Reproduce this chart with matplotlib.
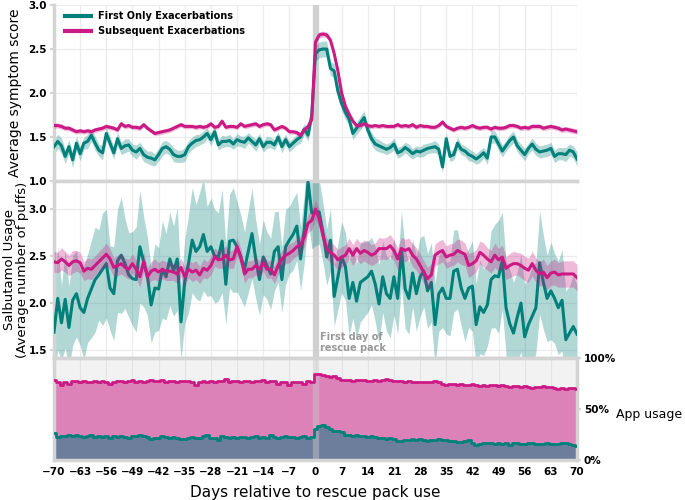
import numpy as np
import matplotlib
matplotlib.use('Agg')
import matplotlib.pyplot as plt

days = np.arange(-70, 71)

# Average symptom score
sym_first = [
    1.39,1.45,1.40,1.28,1.39,1.24,1.43,1.31,1.43,1.45,
    1.52,1.43,1.35,1.32,1.54,1.43,1.32,1.48,1.37,1.40,
    1.41,1.35,1.33,1.37,1.30,1.27,1.26,1.24,1.30,1.37,
    1.39,1.36,1.30,1.28,1.28,1.30,1.39,1.43,1.46,1.47,
    1.50,1.54,1.47,1.56,1.41,1.45,1.45,1.46,1.42,1.47,
    1.45,1.44,1.49,1.45,1.41,1.48,1.39,1.44,1.44,1.41,
    1.50,1.39,1.47,1.39,1.43,1.47,1.50,1.59,1.52,1.75,
    2.45,2.49,2.50,2.50,2.28,2.25,2.02,1.88,1.78,1.70,
    1.54,1.60,1.66,1.72,1.58,1.48,1.42,1.40,1.38,1.36,
    1.38,1.42,1.32,1.34,1.38,1.35,1.31,1.34,1.33,1.35,
    1.37,1.38,1.39,1.36,1.16,1.48,1.28,1.30,1.43,1.36,
    1.34,1.30,1.28,1.25,1.28,1.32,1.26,1.50,1.50,1.42,
    1.34,1.40,1.46,1.50,1.40,1.35,1.30,1.37,1.42,1.36,
    1.33,1.34,1.35,1.37,1.28,1.31,1.31,1.30,1.35,1.33,
    1.25]
sym_first_ci = [
    0.08,0.08,0.09,0.08,0.08,0.09,0.08,0.08,0.07,0.08,
    0.07,0.08,0.07,0.08,0.07,0.08,0.07,0.08,0.07,0.08,
    0.07,0.07,0.08,0.07,0.08,0.07,0.08,0.07,0.07,0.08,
    0.07,0.07,0.08,0.07,0.07,0.08,0.07,0.07,0.07,0.06,
    0.07,0.06,0.07,0.07,0.06,0.07,0.06,0.07,0.06,0.07,
    0.06,0.07,0.06,0.06,0.07,0.06,0.06,0.07,0.06,0.06,
    0.06,0.07,0.06,0.06,0.06,0.06,0.07,0.06,0.07,0.08,
    0.09,0.09,0.09,0.09,0.08,0.08,0.08,0.08,0.08,0.07,
    0.07,0.07,0.08,0.08,0.07,0.07,0.07,0.07,0.06,0.06,
    0.06,0.07,0.06,0.06,0.06,0.07,0.06,0.06,0.06,0.07,
    0.06,0.06,0.07,0.06,0.07,0.07,0.06,0.06,0.07,0.06,
    0.06,0.07,0.06,0.06,0.07,0.06,0.07,0.07,0.07,0.07,
    0.07,0.06,0.07,0.07,0.07,0.07,0.07,0.06,0.07,0.07,
    0.07,0.07,0.07,0.07,0.07,0.07,0.07,0.08,0.07,0.07,
    0.08]
sym_sub = [
    1.63,1.63,1.62,1.60,1.60,1.58,1.56,1.57,1.56,1.57,
    1.56,1.58,1.59,1.60,1.62,1.61,1.60,1.58,1.65,1.62,
    1.63,1.61,1.61,1.60,1.64,1.60,1.57,1.54,1.55,1.56,
    1.57,1.58,1.60,1.62,1.64,1.62,1.62,1.62,1.61,1.62,
    1.61,1.62,1.65,1.61,1.62,1.68,1.61,1.62,1.62,1.61,
    1.65,1.62,1.63,1.64,1.65,1.62,1.64,1.65,1.64,1.58,
    1.60,1.62,1.60,1.56,1.56,1.55,1.52,1.58,1.62,1.70,
    2.58,2.66,2.67,2.66,2.60,2.45,2.25,2.00,1.85,1.76,
    1.68,1.63,1.63,1.65,1.63,1.62,1.63,1.62,1.63,1.62,
    1.62,1.62,1.64,1.62,1.63,1.62,1.64,1.61,1.63,1.62,
    1.62,1.61,1.61,1.63,1.67,1.62,1.60,1.58,1.60,1.61,
    1.60,1.61,1.63,1.61,1.60,1.61,1.61,1.59,1.61,1.60,
    1.60,1.61,1.63,1.63,1.62,1.60,1.61,1.60,1.62,1.62,
    1.62,1.60,1.61,1.62,1.61,1.60,1.58,1.59,1.58,1.57,
    1.56]
sym_sub_ci = [
    0.030,0.029,0.030,0.028,0.029,0.030,0.028,0.029,0.028,0.029,
    0.028,0.029,0.028,0.028,0.029,0.028,0.027,0.028,0.029,0.028,
    0.028,0.027,0.028,0.028,0.027,0.028,0.027,0.028,0.027,0.027,
    0.027,0.028,0.027,0.027,0.028,0.027,0.027,0.026,0.027,0.027,
    0.026,0.027,0.027,0.026,0.027,0.026,0.027,0.026,0.026,0.027,
    0.026,0.026,0.027,0.026,0.026,0.026,0.027,0.026,0.026,0.026,
    0.026,0.026,0.026,0.027,0.026,0.027,0.027,0.027,0.028,0.030,
    0.035,0.035,0.034,0.034,0.033,0.032,0.032,0.030,0.030,0.029,
    0.028,0.027,0.027,0.027,0.026,0.026,0.027,0.026,0.026,0.026,
    0.026,0.026,0.027,0.026,0.026,0.026,0.027,0.026,0.026,0.027,
    0.026,0.026,0.027,0.027,0.028,0.027,0.027,0.027,0.027,0.027,
    0.027,0.027,0.028,0.027,0.027,0.028,0.027,0.028,0.028,0.027,
    0.028,0.028,0.028,0.029,0.028,0.028,0.029,0.028,0.029,0.029,
    0.029,0.029,0.030,0.029,0.029,0.030,0.030,0.030,0.030,0.031,
    0.031]

# Salbutamol usage
puff_first = [
    1.69,2.05,1.79,2.04,1.74,2.03,2.10,1.95,1.90,2.05,
    2.15,2.25,2.30,2.36,2.42,2.16,2.10,2.45,2.51,2.42,
    2.30,2.26,2.25,2.60,2.44,2.29,1.98,2.16,2.15,2.36,
    2.28,2.47,2.34,2.47,1.80,2.23,2.42,2.67,2.55,2.60,
    2.73,2.55,2.60,2.50,2.49,2.66,2.20,2.66,2.67,2.60,
    2.49,2.36,2.55,2.74,2.47,2.25,2.49,2.40,2.31,2.55,
    2.60,2.25,2.60,2.67,2.73,2.82,2.47,2.79,3.29,2.96,
    2.97,2.97,2.75,2.49,2.67,2.07,2.28,2.49,2.39,2.05,
    2.22,2.02,2.22,2.25,2.28,2.34,2.20,1.99,2.28,2.10,
    2.05,2.28,2.05,2.58,2.15,2.05,2.32,2.10,2.28,2.34,
    2.13,2.22,1.77,2.10,2.16,2.05,2.05,2.34,2.36,2.16,
    2.05,2.16,2.18,1.77,1.96,1.90,1.98,2.25,2.29,2.28,
    2.45,1.95,1.78,1.68,1.85,2.00,1.64,1.77,1.86,1.95,
    2.43,2.22,2.05,2.13,2.05,1.95,2.03,1.61,1.68,1.75,
    1.67]
puff_first_ci = [
    0.42,0.55,0.40,0.52,0.44,0.48,0.46,0.40,0.50,0.47,
    0.52,0.56,0.48,0.60,0.58,0.45,0.50,0.55,0.62,0.48,
    0.45,0.50,0.56,0.60,0.48,0.42,0.40,0.47,0.44,0.52,
    0.46,0.50,0.48,0.55,0.40,0.45,0.52,0.56,0.50,0.58,
    0.60,0.48,0.52,0.50,0.47,0.55,0.42,0.50,0.56,0.48,
    0.45,0.40,0.44,0.48,0.42,0.38,0.40,0.36,0.38,0.42,
    0.38,0.35,0.40,0.36,0.38,0.36,0.34,0.36,0.40,0.38,
    0.36,0.34,0.32,0.30,0.34,0.32,0.35,0.38,0.36,0.40,
    0.38,0.40,0.42,0.40,0.38,0.36,0.40,0.42,0.38,0.40,
    0.42,0.40,0.38,0.40,0.42,0.38,0.36,0.40,0.42,0.38,
    0.40,0.42,0.44,0.40,0.42,0.38,0.40,0.44,0.42,0.40,
    0.46,0.42,0.48,0.44,0.50,0.46,0.44,0.52,0.55,0.60,
    0.52,0.50,0.58,0.54,0.48,0.52,0.56,0.50,0.54,0.48,
    0.55,0.50,0.46,0.52,0.48,0.50,0.54,0.52,0.50,0.55,
    0.52]
puff_sub = [
    2.44,2.43,2.47,2.44,2.40,2.44,2.45,2.43,2.34,2.37,
    2.36,2.40,2.44,2.48,2.52,2.47,2.38,2.40,2.42,2.38,
    2.36,2.42,2.36,2.28,2.44,2.28,2.34,2.36,2.33,2.36,
    2.34,2.34,2.33,2.31,2.38,2.28,2.36,2.33,2.35,2.30,
    2.37,2.35,2.40,2.49,2.46,2.47,2.51,2.46,2.47,2.60,
    2.49,2.31,2.36,2.36,2.40,2.36,2.43,2.36,2.36,2.30,
    2.40,2.47,2.51,2.53,2.56,2.60,2.62,2.70,2.85,2.88,
    3.00,2.90,2.72,2.58,2.54,2.51,2.46,2.49,2.51,2.58,
    2.51,2.58,2.53,2.56,2.54,2.51,2.53,2.58,2.58,2.58,
    2.61,2.56,2.47,2.58,2.56,2.58,2.51,2.47,2.40,2.33,
    2.26,2.30,2.51,2.54,2.56,2.49,2.51,2.52,2.56,2.54,
    2.52,2.40,2.42,2.45,2.54,2.51,2.47,2.44,2.51,2.46,
    2.49,2.37,2.40,2.42,2.42,2.40,2.37,2.35,2.42,2.35,
    2.31,2.33,2.27,2.32,2.33,2.30,2.31,2.31,2.31,2.31,
    2.27]
puff_sub_ci = [
    0.11,0.11,0.12,0.11,0.11,0.12,0.11,0.11,0.10,0.11,
    0.11,0.10,0.11,0.11,0.12,0.11,0.10,0.11,0.11,0.10,
    0.11,0.10,0.10,0.11,0.10,0.10,0.10,0.11,0.10,0.10,
    0.10,0.10,0.09,0.10,0.10,0.10,0.09,0.10,0.10,0.09,
    0.10,0.09,0.10,0.10,0.09,0.10,0.10,0.09,0.10,0.10,
    0.09,0.10,0.09,0.09,0.10,0.09,0.09,0.10,0.09,0.09,
    0.10,0.09,0.09,0.10,0.09,0.09,0.10,0.10,0.10,0.10,
    0.10,0.10,0.10,0.11,0.11,0.11,0.11,0.11,0.11,0.11,
    0.11,0.11,0.11,0.11,0.12,0.11,0.11,0.12,0.11,0.12,
    0.12,0.11,0.12,0.12,0.12,0.11,0.12,0.12,0.12,0.12,
    0.12,0.12,0.12,0.12,0.12,0.12,0.12,0.12,0.12,0.13,
    0.12,0.13,0.12,0.12,0.12,0.13,0.12,0.12,0.13,0.12,
    0.13,0.12,0.13,0.13,0.12,0.13,0.13,0.13,0.13,0.13,
    0.13,0.14,0.13,0.13,0.14,0.13,0.14,0.14,0.14,0.14,
    0.14]

# App usage (%)
app_sub = [
    78,76,74,76,75,77,77,76,77,76,
    76,77,76,77,76,75,76,77,77,76,
    77,78,76,77,76,77,78,77,77,78,
    76,77,77,76,77,77,77,76,74,76,
    77,76,77,76,77,77,79,76,77,77,
    76,77,77,76,77,77,78,76,77,77,
    75,76,76,74,76,76,76,75,77,76,
    84,84,83,82,81,82,80,78,78,78,
    77,78,78,78,77,77,78,77,78,79,
    78,77,77,77,76,77,76,76,76,76,
    76,76,77,76,75,74,75,75,74,75,
    74,74,75,74,73,74,73,74,74,73,
    74,73,72,73,73,72,73,72,71,72,
    72,73,72,72,71,70,71,70,71,71,
    70]
app_first = [
    26,23,24,24,25,24,25,24,23,24,
    25,23,24,23,24,22,24,23,24,23,
    22,24,24,25,24,23,21,22,22,24,
    23,22,23,22,21,21,22,23,22,22,
    24,25,22,22,20,24,23,22,23,22,
    23,23,22,23,24,22,23,22,25,23,
    22,23,24,23,23,22,23,24,22,23,
    30,33,34,32,30,28,28,27,25,25,
    24,25,24,24,23,24,23,22,22,21,
    22,21,19,19,20,20,21,20,21,20,
    19,20,20,21,20,20,19,19,18,18,
    19,20,17,15,16,17,17,17,16,17,
    16,17,15,17,17,16,16,17,17,16,
    16,16,17,16,16,16,17,17,16,15,
    14]

for arr in (sym_first, sym_first_ci, sym_sub, sym_sub_ci, puff_first, puff_first_ci,
            puff_sub, puff_sub_ci, app_sub, app_first):
    assert len(arr) == len(days), len(arr)

x_ticks = list(range(-70, 71, 7))
sym_ticks = [1.0, 1.5, 2.0, 2.5, 3.0]
puff_ticks = [1.5, 2.0, 2.5, 3.0]

TEAL = '#00807a'
PINK = '#cc1a85'
SPINE = '#d4d4d4'
GRID = '#ececec'

sf, sfc = np.array(sym_first), np.array(sym_first_ci)
ss, ssc = np.array(sym_sub), np.array(sym_sub_ci)
pf, pfc = np.array(puff_first), np.array(puff_first_ci)
ps, psc = np.array(puff_sub), np.array(puff_sub_ci)

W, H = 685, 500
fig = plt.figure(figsize=(6.85, 5.0), dpi=100)
L, R = 54 / W, 577 / W
ax1 = fig.add_axes([L, 1 - 181 / H, R - L, 176 / H])
ax2 = fig.add_axes([L, 1 - 358 / H, R - L, 177 / H], sharex=ax1)
ax3 = fig.add_axes([L, 1 - 460 / H, R - L, 102 / H], sharex=ax1)

for ax in (ax1, ax2, ax3):
    ax.set_xlim(-70, 70)
    ax.set_xticks(x_ticks)
    ax.grid(True, color=GRID, lw=0.9, zorder=0)
    ax.set_axisbelow(True)
    for s in ax.spines.values():
        s.set_color(SPINE)
        s.set_linewidth(2.5)
    ax.tick_params(colors=SPINE, labelcolor='black', labelsize=7.5, length=3, width=1.5)
    ax.tick_params(axis='y', pad=2)

# --- top panel
ax1.axvline(0, color='#d0d0d0', lw=4.5, zorder=1)
ax1.fill_between(days, sf - sfc, sf + sfc, color=TEAL, alpha=0.3, lw=0, zorder=2)
l1, = ax1.plot(days, sf, color=TEAL, lw=2.2, zorder=3, label='First Only Exacerbations')
ax1.fill_between(days, ss - ssc, ss + ssc, color=PINK, alpha=0.3, lw=0, zorder=4)
l2, = ax1.plot(days, ss, color=PINK, lw=2.2, zorder=5, label='Subsequent Exacerbations')
ax1.set_ylim(1.0, 3.0)
ax1.set_yticks(sym_ticks)
ax1.set_ylabel('Average symptom score', fontsize=10)
ax1.yaxis.set_label_coords(-0.061, 0.5)
ax1.spines['top'].set_visible(False)
ax1.spines['right'].set_visible(False)
ax1.tick_params(axis='x', labelbottom=False, length=0)
leg = ax1.legend(handles=[l1, l2], loc='upper left', bbox_to_anchor=(0.005, 1.015),
                 frameon=False, prop={'weight': 'bold', 'size': 7},
                 handlelength=2.6, handletextpad=0.8, labelspacing=0.5)
for ln in leg.get_lines():
    ln.set_linewidth(3)

# --- middle panel
ax2.axvline(0, color='#d0d0d0', lw=4.5, zorder=1)
ax2.fill_between(days, pf - pfc, pf + pfc, color=TEAL, alpha=0.3, lw=0, zorder=2)
ax2.plot(days, pf, color=TEAL, lw=2.2, zorder=3)
ax2.fill_between(days, ps - psc, ps + psc, color=PINK, alpha=0.3, lw=0, zorder=4)
ax2.plot(days, ps, color=PINK, lw=2.2, zorder=5)
ax2.set_ylim(1.415, 3.30)
ax2.set_yticks(puff_ticks)
fig.text(16 / W, 1 - 270 / H, 'Salbutamol Usage\n(Average number of puffs)', fontsize=9.5,
         rotation=90, ha='center', va='center', linespacing=1.0, multialignment='center')
ax2.spines['right'].set_visible(False)
ax2.tick_params(axis='x', labelbottom=False, length=0)
ax2.text(1.3, 1.47, 'First day of\nrescue pack', color='#999999', fontsize=7,
         fontweight='bold', ha='left', va='bottom', zorder=6, linespacing=1.1)

# --- bottom panel
ax3.set_facecolor('white')
ax3.fill_between(days, 0, 1, color='#f2f2f2', step='mid', lw=0, zorder=0.5)
ax3.fill_between(days, 0, np.array(app_sub) / 100, step='mid', color='#dd82b9', lw=0, zorder=1)
ax3.fill_between(days, 0, np.array(app_first) / 100, step='mid', color='#6c7e9c', lw=0, zorder=1.2)
ax3.grid(True, axis='x', color='#e4e4e4', lw=0.9, zorder=1.5)
ax3.grid(False, axis='y')
ax3.axvline(0, color='#c8c8c8', lw=4.5, alpha=0.45, zorder=1.6)
ax3.step(days, np.array(app_sub) / 100, where='mid', color=PINK, lw=2, zorder=3)
ax3.step(days, np.array(app_first) / 100, where='mid', color=TEAL, lw=2, zorder=3)
ax3.set_ylim(0, 1)
ax3.yaxis.tick_right()
ax3.set_yticks([0, 0.5, 1.0])
ax3.set_yticklabels(['0%', '50%', '100%'])
ax3.text(1.0745, 0.45, 'App usage', transform=ax3.transAxes, fontsize=9,
         ha='left', va='center')
ax3.set_xlabel('Days relative to rescue pack use', fontsize=11, labelpad=6)
ax3.tick_params(axis='x', length=0, pad=5)

for ax in (ax1, ax2, ax3):
    for t in ax.get_xticklabels() + ax.get_yticklabels():
        t.set_fontweight('bold')

fig.savefig('out.png', dpi=100)
